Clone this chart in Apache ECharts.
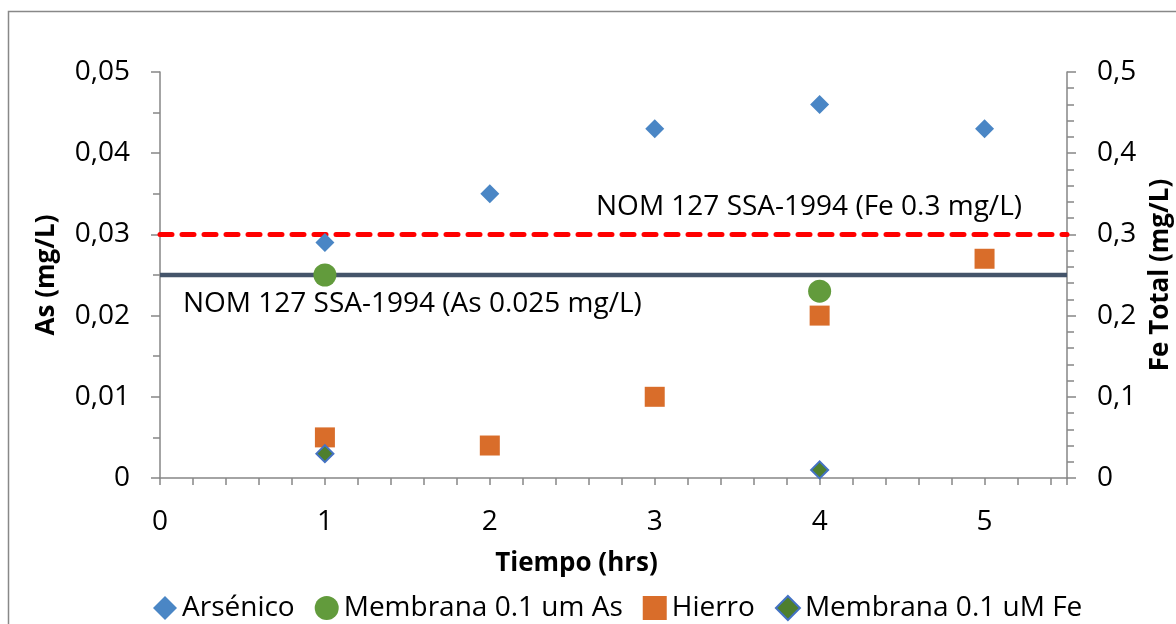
<!DOCTYPE html>
<html>
<head>
<meta charset="utf-8">
<script src="https://cdn.jsdelivr.net/npm/echarts@6/dist/echarts.min.js"></script>
<style>html,body{margin:0;padding:0;background:#fff;}#c{width:1176px;height:624px;}</style>
</head>
<body>
<div id="c"></div>
<script>
// ---- data ----
const arsenicoX = [1, 2, 3, 4, 5];
const arsenicoY = [0.029, 0.035, 0.043, 0.046, 0.043];
const membAsX = [1, 4];
const membAsY = [0.025, 0.023];
const hierroX = [1, 2, 3, 4, 5];
const hierroY = [0.05, 0.04, 0.10, 0.20, 0.27];
const membFeX = [1, 4];
const membFeY = [0.03, 0.01];
const asLimit = 0.025;
const feLimit = 0.3;
const xMin = 0, xMax = 5.5;
const seriesNames = ['Arsénico', 'Membrana 0.1 um As', 'Hierro', 'Membrana 0.1 uM Fe'];
const asLimitText = 'NOM 127 SSA-1994 (As 0.025 mg/L)';
const feLimitText = 'NOM 127 SSA-1994 (Fe 0.3 mg/L)';

const FONT = '"Open Sans", "Noto Sans", sans-serif';
const zip = (xs, ys) => xs.map((x, i) => [x, ys[i]]);
const axisGray = '#868686';

const chart = echarts.init(document.getElementById('c'), null, {renderer: 'canvas'});
chart.setOption({
  animation: false,
  backgroundColor: '#fff',
  grid: {left: 160, right: 109, top: 72, bottom: 146, containLabel: false, outerBoundsMode: 'none'},
  xAxis: {
    type: 'value', min: xMin, max: xMax, interval: 0.2,
    axisLine: {lineStyle: {color: axisGray, width: 1.5}},
    axisTick: {length: 7, lineStyle: {color: axisGray, width: 1.5}},
    axisLabel: {
      margin: 30, fontSize: 28, color: '#000', fontFamily: FONT,
      formatter: v => Math.abs(v - Math.round(v)) < 1e-6 && v <= 5 ? String(Math.round(v)) : ''
    },
    splitLine: {show: false},
    name: 'Tiempo (hrs)', nameLocation: 'middle', nameGap: 73,
    nameTextStyle: {fontSize: 26, fontWeight: 'bold', color: '#000', fontFamily: FONT, padding: [0, 74, 0, 0]}
  },
  yAxis: [{
    type: 'value', position: 'left', min: 0, max: 0.05, interval: 0.01,
    axisLine: {show: true, lineStyle: {color: axisGray, width: 1.5}},
    axisTick: {show: true, length: 9, lineStyle: {color: axisGray, width: 1.5}},
    minorTick: {show: true, splitNumber: 2, length: 7, lineStyle: {color: axisGray, width: 1.5}},
    axisLabel: {margin: 30, fontSize: 28, color: '#000', fontFamily: FONT,
      formatter: v => v === 0 ? '0' : v.toFixed(2).replace('.', ',')},
    splitLine: {show: false},
    name: 'As (mg/L)', nameLocation: 'middle', nameGap: 100,
    nameTextStyle: {fontSize: 26, fontWeight: 'bold', color: '#000', fontFamily: FONT}
  }, {
    type: 'value', position: 'right', min: 0, max: 0.5, interval: 0.1,
    axisLine: {show: true, lineStyle: {color: axisGray, width: 1.5}},
    axisTick: {show: true, length: 9, lineStyle: {color: axisGray, width: 1.5}},
    minorTick: {show: true, splitNumber: 5, length: 7, lineStyle: {color: axisGray, width: 1.5}},
    axisLabel: {margin: 30, fontSize: 28, color: '#000', fontFamily: FONT,
      formatter: v => v === 0 ? '0' : v.toFixed(1).replace('.', ',')},
    splitLine: {show: false},
    name: 'Fe Total (mg/L)', nameLocation: 'middle', nameGap: 81,
    nameTextStyle: {fontSize: 26, fontWeight: 'bold', color: '#000', fontFamily: FONT}
  }],
  legend: {
    data: seriesNames,
    left: 148, top: 589,
    itemWidth: 24, itemHeight: 24, itemGap: 20,
    textStyle: {fontSize: 28, color: '#000', fontFamily: FONT}
  },
  graphic: [
    {type: 'rect', silent: true, z: -10,
     shape: {x: 8.5, y: 11.5, width: 1300, height: 800},
     style: {fill: 'none', stroke: '#888', lineWidth: 1.5}},
    {type: 'text', silent: true, z: 100,
     style: {text: feLimitText, x: 1022, y: 207, align: 'right', verticalAlign: 'middle',
             font: '28px ' + FONT, fill: '#000'}},
    {type: 'text', silent: true, z: 100,
     style: {text: asLimitText, x: 183, y: 304, align: 'left', verticalAlign: 'middle',
             font: '28px ' + FONT, fill: '#000'}}
  ],
  series: [
    {name: 'limAs', type: 'line', yAxisIndex: 0, z: 1, silent: true, showSymbol: false, symbol: 'none',
     data: [[xMin, asLimit], [xMax, asLimit]],
     lineStyle: {color: '#44546A', width: 4.5}},
    {name: 'limFe', type: 'line', yAxisIndex: 1, z: 1, silent: true, showSymbol: false, symbol: 'none',
     data: [[xMin, feLimit], [xMax, feLimit]],
     lineStyle: {color: '#FF0000', width: 5, type: [12, 10], cap: 'round'}},
    {name: seriesNames[0], type: 'scatter', yAxisIndex: 0, z: 3, symbol: 'diamond', symbolSize: [19, 19],
     itemStyle: {color: '#4A86C5', opacity: 1}, data: zip(arsenicoX, arsenicoY)},
    {name: seriesNames[1], type: 'scatter', yAxisIndex: 0, z: 3, symbol: 'circle', symbolSize: 23,
     itemStyle: {color: '#629B3C', opacity: 1}, data: zip(membAsX, membAsY)},
    {name: seriesNames[2], type: 'scatter', yAxisIndex: 1, z: 3, symbol: 'rect', symbolSize: 20,
     itemStyle: {color: '#D96D2A', opacity: 1}, data: zip(hierroX, hierroY)},
    {name: seriesNames[3], type: 'scatter', yAxisIndex: 1, z: 3, symbol: 'diamond', symbolSize: 17,
     itemStyle: {color: '#4E7F2E', borderColor: '#4472C4', borderWidth: 2, opacity: 1}, data: zip(membFeX, membFeY)}
  ]
});
</script>
</body>
</html>
